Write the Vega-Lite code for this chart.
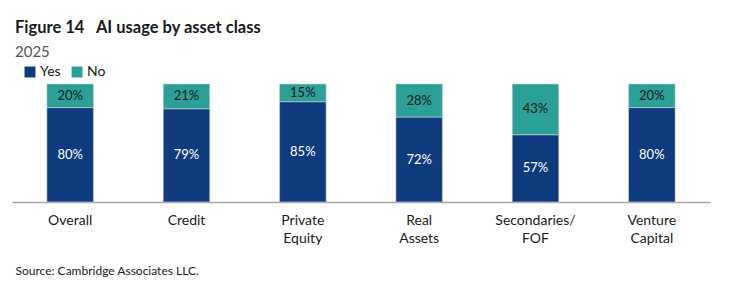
{
  "$schema": "https://vega.github.io/schema/vega-lite/v6.json",
  "width": 698,
  "height": 118,
  "autosize": {"type": "none"},
  "padding": {"left": 12, "top": 84, "right": 23, "bottom": 89},
  "background": "white",
  "title": {
    "text": "Figure 14\u00a0\u00a0\u00a0AI usage by asset class",
    "subtitle": "2025",
    "anchor": "start",
    "frame": "group",
    "dx": 3,
    "font": "Lato",
    "fontSize": 16.5,
    "fontWeight": "bold",
    "color": "#1a1a1a",
    "subtitleFont": "Lato",
    "subtitleFontSize": 15,
    "subtitleColor": "#555555",
    "subtitlePadding": 9,
    "offset": 5
  },
  "data": {
    "values": [
      {"asset": "Overall", "answer": "Yes", "share": 0.80, "rank": 1},
      {"asset": "Overall", "answer": "No", "share": 0.20, "rank": 2},
      {"asset": "Credit", "answer": "Yes", "share": 0.79, "rank": 1},
      {"asset": "Credit", "answer": "No", "share": 0.21, "rank": 2},
      {"asset": "Private Equity", "answer": "Yes", "share": 0.85, "rank": 1},
      {"asset": "Private Equity", "answer": "No", "share": 0.15, "rank": 2},
      {"asset": "Real Assets", "answer": "Yes", "share": 0.72, "rank": 1},
      {"asset": "Real Assets", "answer": "No", "share": 0.28, "rank": 2},
      {"asset": "Secondaries/FOF", "answer": "Yes", "share": 0.57, "rank": 1},
      {"asset": "Secondaries/FOF", "answer": "No", "share": 0.43, "rank": 2},
      {"asset": "Venture Capital", "answer": "Yes", "share": 0.80, "rank": 1},
      {"asset": "Venture Capital", "answer": "No", "share": 0.20, "rank": 2}
    ]
  },
  "transform": [
    {"stack": "share", "groupby": ["asset"], "sort": [{"field": "rank", "order": "ascending"}], "as": ["lo", "hi"]},
    {"calculate": "(datum.lo + datum.hi) / 2", "as": "mid"}
  ],
  "encoding": {
    "x": {
      "field": "asset",
      "type": "nominal",
      "sort": null,
      "scale": {"paddingInner": 0.6, "paddingOuter": 0.3},
      "axis": {
        "title": "Source: Cambridge Associates LLC.",
        "titleAnchor": "start",
        "titleAlign": "left",
        "titleX": 3,
        "titleFont": "Lato",
        "titleFontSize": 12,
        "titleFontWeight": "normal",
        "titleColor": "#1a1a1a",
        "titlePadding": 20,
        "labelAngle": 0,
        "labelFont": "Lato",
        "labelFontSize": 14,
        "labelColor": "#1a1a1a",
        "labelPadding": 11,
        "labelLineHeight": 18,
        "labelExpr": "datum.value == 'Secondaries/FOF' ? ['Secondaries/', 'FOF'] : split(datum.value, ' ')",
        "ticks": false,
        "domainColor": "#a6a6a6",
        "domainWidth": 1.5
      }
    }
  },
  "layer": [
    {
      "mark": {"type": "bar", "stroke": "#c9d1dc", "strokeWidth": 0.6},
      "encoding": {
        "y": {"field": "lo", "type": "quantitative", "scale": {"domain": [0, 1]}, "axis": null},
        "y2": {"field": "hi"},
        "color": {
          "field": "answer",
          "type": "nominal",
          "sort": ["Yes", "No"],
          "scale": {"domain": ["Yes", "No"], "range": ["#0e3a7e", "#2ba096"]},
          "legend": {
            "title": null,
            "orient": "none",
            "legendX": 11,
            "legendY": -19,
            "direction": "horizontal",
            "symbolType": "square",
            "symbolSize": 120,
            "symbolStrokeWidth": 0,
            "symbolOpacity": 1,
            "labelFont": "Lato",
            "labelFontSize": 14,
            "labelColor": "#1a1a1a",
            "labelOffset": 3,
            "columnPadding": 9,
            "padding": 0
          }
        }
      }
    },
    {
      "mark": {"type": "text", "font": "Lato", "fontSize": 13, "baseline": "middle"},
      "encoding": {
        "y": {"field": "mid", "type": "quantitative", "scale": {"domain": [0, 1]}},
        "text": {"field": "share", "type": "quantitative", "format": ".0%"},
        "color": {
          "condition": {"test": "datum.answer == 'Yes'", "value": "white"},
          "value": "#1a1a1a"
        },
        "fontWeight": {
          "condition": {"test": "datum.answer == 'Yes'", "value": "bold"},
          "value": "normal"
        }
      }
    }
  ],
  "config": {"view": {"stroke": null}}
}
